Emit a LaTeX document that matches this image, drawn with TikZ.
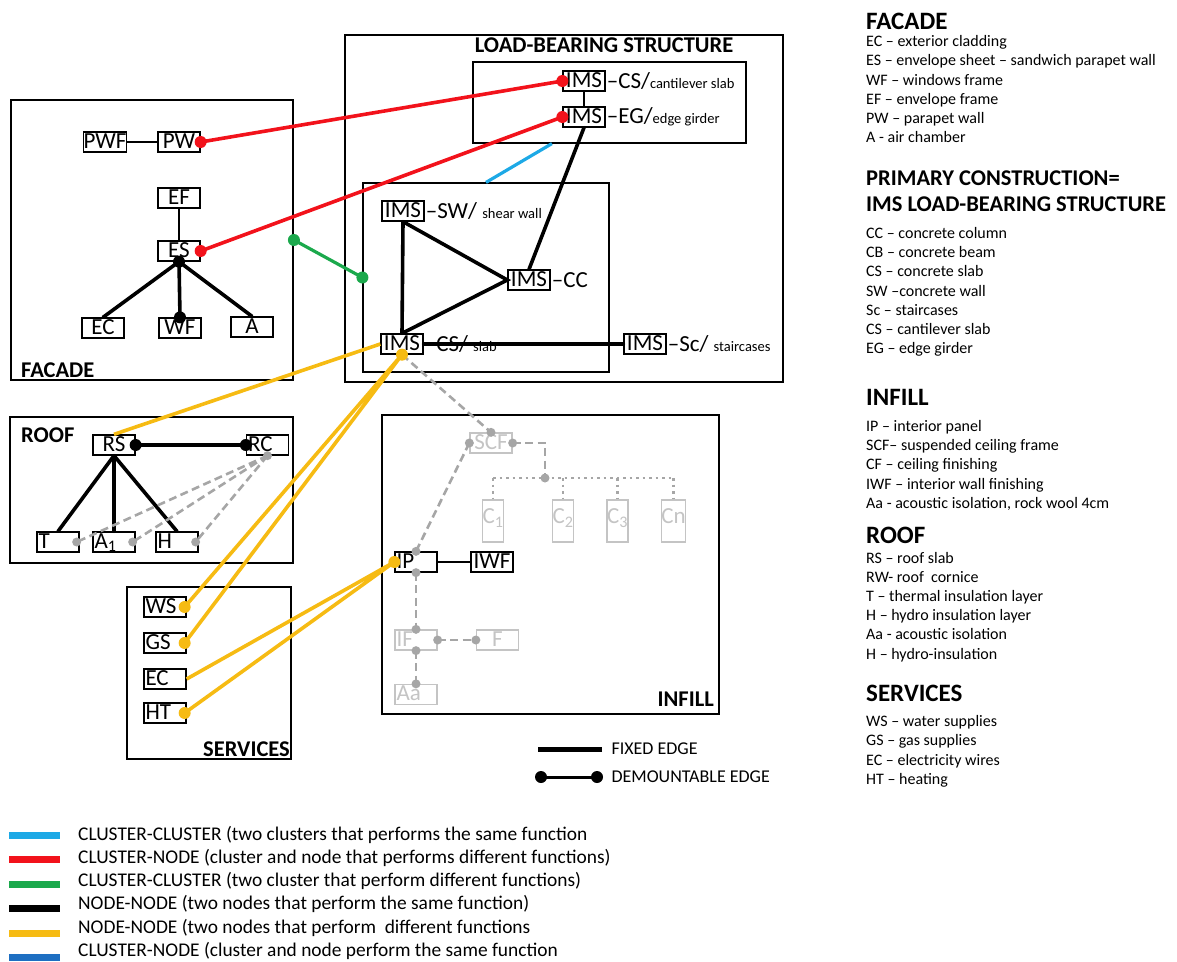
\documentclass[tikz,border=0pt]{standalone}
\usepackage{fontspec}
\setmainfont{Carlito}
\usetikzlibrary{calc}
\definecolor{EdgeCyan}{HTML}{1DA9E6}
\definecolor{EdgeRed}{HTML}{F2121B}
\definecolor{EdgeGreen}{HTML}{1BA94C}
\definecolor{EdgeGold}{HTML}{F6BB13}
\definecolor{EdgeBlue}{HTML}{1E6FC2}
\definecolor{Ghost}{HTML}{A6A6A6}
\definecolor{GhostText}{HTML}{C4C4C4}
\begin{document}
\begin{tikzpicture}[x=1pt,y=-1pt,font=\fontsize{16}{19}\selectfont,cluster/.style={draw, line width=1.8pt, inner sep=0pt},subcluster/.style={draw, line width=1.2pt, inner sep=0pt},clustertitle/.style={inner sep=1pt, font=\fontsize{22.5}{22.5}\selectfont\bfseries},box/.style={draw, fill=white, line width=1.3pt, minimum width=42pt, minimum height=20pt, inner sep=0pt, font=\fontsize{23}{23}\selectfont, text height=15pt, text depth=3pt},lbox/.style={box, text width=39pt, align=left, inner xsep=1.5pt},ghost/.style={draw=GhostText, text=GhostText},tag/.style={anchor=west, inner sep=1pt, font=\fontsize{23}{23}\selectfont},small/.style={font=\fontsize{14.5}{14.5}\selectfont},fixededge/.style={line width=3.6pt, line cap=round},lightedge/.style={line width=1.5pt},ghostedge/.style={Ghost, line width=2.6pt, dash pattern=on 8pt off 4.5pt},ghostdots/.style={Ghost, line width=2.6pt, dash pattern=on 2.5pt off 4pt},coloredge/.style={line width=3.6pt},keytext/.style={anchor=west, inner sep=0pt, text height=11pt, text depth=4pt},keyhead/.style={anchor=west, inner sep=0pt, font=\fontsize{25}{26}\selectfont\bfseries}]
\useasboundingbox (0,0) rectangle (1177,961);
\node[cluster, minimum width=282pt, minimum height=280pt] (facade) at (152,240) {};
\node[cluster, minimum width=438pt, minimum height=347pt] (lbs) at (564,208.5) {};
\node[subcluster, minimum width=273pt, minimum height=81pt] (girders) at (609.5,102.5) {};
\node[subcluster, minimum width=246pt, minimum height=189pt] (slabs) at (486,277.5) {};
\node[cluster, minimum width=283pt, minimum height=146pt] (roof) at (151.5,490) {};
\node[cluster, minimum width=164pt, minimum height=172pt] (services) at (209,673) {};
\node[cluster, minimum width=337pt, minimum height=299pt] (infill) at (550.5,564.5) {};
\node[clustertitle, anchor=west] (facadetitle) at (20,370) {FACADE};
\node[clustertitle] (lbstitle) at (604,45) {LOAD-BEARING STRUCTURE};
\node[clustertitle, anchor=west] (rooftitle) at (20,435) {ROOF};
\node[clustertitle, anchor=east] (servicestitle) at (291,749) {SERVICES};
\node[clustertitle, anchor=east] (infilltitle) at (715,699) {INFILL};
\node[box] (pwf) at (105,142) {PWF};
\node[box] (pw) at (179,142) {PW};
\node[box] (ef) at (179,198) {EF};
\node[box] (es) at (179,251) {ES};
\node[box] (ec) at (103,328) {EC};
\node[box] (wf) at (180,328) {WF};
\node[box] (a) at (252,327) {A};
\node[box] (imscs) at (584,81) {IMS};
\node[box] (imseg) at (584,117) {IMS};
\node[box] (imssw) at (403,211) {IMS};
\node[box] (imscc) at (529,280) {IMS};
\node[box] (imsslab) at (402,344) {IMS};
\node[box] (imssc) at (645,344) {IMS};
\node[tag] (cstag) at (imscs.east) {--CS/{\fontsize{14.5}{14.5}\selectfont cantilever slab}};
\node[tag] (egtag) at (imseg.east) {--EG/{\fontsize{14.5}{14.5}\selectfont edge girder}};
\node[tag] (swtag) at (imssw.east) {--SW/ {\fontsize{14.5}{14.5}\selectfont shear wall}};
\node[tag] (cctag) at (imscc.east) {--CC};
\node[tag] (slabtag) at (imsslab.east) {--CS/ {\fontsize{14.5}{14.5}\selectfont slab}};
\node[tag] (sctag) at (imssc.east) {--Sc/ {\fontsize{14.5}{14.5}\selectfont staircases}};
\node[box] (rs) at (114,445) {RS};
\node[lbox] (rc) at (267.5,445) {RC};
\node[lbox] (t) at (58,542) {T};
\node[lbox] (aone) at (114,542) {A\textsubscript{1}};
\node[lbox] (h) at (177,542) {H};
\node[lbox] (ws) at (165,607) {WS};
\node[lbox] (gs) at (165,643) {GS};
\node[lbox] (ecs) at (165,679) {EC};
\node[lbox] (ht) at (165,713) {HT};
\node[box, ghost] (scf) at (491,443) {SCF};
\foreach \n/\x/\t in {c1/493/C\textsubscript{1},c2/563/C\textsubscript{2},c3/617.5/C\textsubscript{3},cn/673.5/Cn} {\node[box, ghost, minimum width=20pt, minimum height=42pt, text depth=10pt] (\n) at (\x,521) {\t};}
\node[lbox] (ip) at (416,562) {IP};
\node[box] (iwf) at (492,562) {IWF};
\node[lbox, ghost] (if) at (416,640) {IF};
\node[box, ghost] (f) at (497.5,640) {F};
\node[lbox, ghost] (aa) at (416,694.5) {Aa};
\coordinate (tdot) at ([xshift=-3pt]t.east);
\coordinate (aonedot) at ([xshift=-3pt]aone.east);
\coordinate (hdot) at ([xshift=-3pt]h.east);
\coordinate (wsdot) at ([xshift=-2pt]ws.east);
\coordinate (gsdot) at ([xshift=-2pt]gs.east);
\coordinate (htdot) at ([xshift=-2pt]ht.east);
\coordinate (cjoin) at (545,478);
\draw[lightedge] (pwf.east) -- (pw.west);
\draw[lightedge] (ef.south) -- (es.north);
\draw[lightedge] (imscs.south) -- (imseg.north);
\draw[line width=2.6pt] (ip.east) -- (iwf.west);
\draw[fixededge] (es.south) -- (ec.north) (es.south) -- (wf.north) (es.south) -- (a.north);
\draw[fixededge] (imssw.south) -- (imsslab.north) (imssw.south) -- (imscc.west) -- (imsslab.north) (imscc.north) -- (imseg.south);
\draw[fixededge] (imsslab.east) -- (imssc.west);
\draw[fixededge] (rs.south) -- (t.north) (rs.south) -- (aone.north) (rs.south) -- (h.north);
\draw[fixededge] (rs.east) -- (rc.west);
\foreach \p in {es.south, wf.north, rs.east, rc.west} {\fill (\p) circle (6pt);}
\draw[ghostedge] (rc.south) -- (tdot) (rc.south) -- (aonedot) (rc.south) -- (hdot);
\draw[ghostedge] (imsslab.south) -- (scf.north);
\draw[ghostedge] (scf.east) -| (cjoin);
\draw[ghostdots] (c1.north |- cjoin) -- (cn.north |- cjoin);
\foreach \n in {c1,c2,c3,cn} {\draw[ghostdots] (\n.north |- cjoin) -- (\n.north);}
\draw[ghostedge] (scf.west) -- (ip.north);
\draw[ghostedge] (ip.south) -- (if.north) (if.south) -- (aa.north);
\draw[ghostedge] (if.east) -- (f.west);
\foreach \p in {rc.south, tdot, aonedot, hdot, scf.north, scf.east, scf.west, cjoin, ip.north, ip.south, if.north, if.east, if.south, f.west, aa.north} {\fill[Ghost] (\p) circle (4.5pt);}
\draw[coloredge, EdgeRed] (pw.east) -- (imscs.west);
\draw[coloredge, EdgeRed] (es.east) -- (imseg.west);
\foreach \p in {pw.east, imscs.west, es.east, imseg.west} {\fill[EdgeRed] (\p) circle (6pt);}
\draw[coloredge, EdgeGreen, line width=3.2pt] (facade.east) -- (slabs.west);
\foreach \p in {facade.east, slabs.west} {\fill[EdgeGreen] (\p) circle (6pt);}
\draw[coloredge, EdgeCyan, line width=3.2pt] ($(girders.south west)!0.29!(girders.south east)$) -- (slabs.north);
\draw[coloredge, EdgeGold] (rs.north) -- (imsslab.west);
\draw[coloredge, EdgeGold] (wsdot) -- (imsslab.south) (gsdot) -- (imsslab.south);
\draw[coloredge, EdgeGold] (ecs.east) -- (ip.west) (htdot) -- (ip.west);
\foreach \p in {wsdot, gsdot, htdot, imsslab.south, ip.west} {\fill[EdgeGold] (\p) circle (6pt);}
\node[anchor=west, font=\fontsize{18}{18}\selectfont] (fixedkey) at (608,749) {FIXED EDGE};
\node[anchor=west, font=\fontsize{18}{18}\selectfont] (demountkey) at (608,777) {DEMOUNTABLE EDGE};
\draw[line width=5pt] ([xshift=-6pt]fixedkey.west) -- ++(-64,0);
\draw[line width=3pt] ([xshift=-11pt]demountkey.west) -- ++(-56,0);
\fill ([xshift=-11pt]demountkey.west) circle (6pt) ++(-56,0) circle (6pt);
\node[keyhead] (facadehead) at (866,21) {FACADE};
\foreach \t [count=\i from 0] in {EC -- exterior cladding, ES -- envelope sheet -- sandwich parapet wall, WF -- windows frame, EF -- envelope frame, PW -- parapet wall, A - air chamber} {\node[keytext] (facadeitem\i) at (866,{43+19.25*\i}) {\t};}
\node[keyhead, font=\fontsize{22.5}{24}\selectfont\bfseries] (primaryhead) at (866,178) {PRIMARY CONSTRUCTION=};
\node[keyhead, font=\fontsize{22.5}{24}\selectfont\bfseries] (imshead) at (866,204) {IMS LOAD-BEARING STRUCTURE};
\foreach \t [count=\i from 0] in {CC -- concrete column, CB -- concrete beam, CS -- concrete slab, SW --concrete wall, Sc -- staircases, CS -- cantilever slab, EG -- edge girder} {\node[keytext] (imsitem\i) at (866,{235+19.2*\i}) {\t};}
\node[keyhead] (infillhead) at (866,397) {INFILL};
\foreach \t [count=\i from 0] in {IP -- interior panel, SCF-- suspended ceiling frame, CF -- ceiling finishing, IWF -- interior wall finishing, {Aa - acoustic isolation, rock wool 4cm}} {\node[keytext] (infillitem\i) at (866,{428+19.2*\i}) {\t};}
\node[keyhead] (roofhead) at (866,535) {ROOF};
\foreach \t [count=\i from 0] in {RS -- roof slab, RW- roof\ \ cornice, T -- thermal insulation layer, H -- hydro insulation layer, Aa - acoustic isolation, H -- hydro-insulation} {\node[keytext] (roofitem\i) at (866,{560+19.1*\i}) {\t};}
\node[keyhead] (serviceshead) at (866,693) {SERVICES};
\foreach \t [count=\i from 0] in {WS -- water supplies, GS -- gas supplies, EC -- electricity wires, HT -- heating} {\node[keytext] (servicesitem\i) at (866,{723+19.3*\i}) {\t};}
\foreach \c/\t [count=\i from 0] in {EdgeCyan/{CLUSTER-CLUSTER (two clusters that performs the same function}, EdgeRed/{CLUSTER-NODE (cluster and node that performs different functions)}, EdgeGreen/{CLUSTER-CLUSTER (two cluster that perform different functions)}, black/{NODE-NODE (two nodes that perform the same function)}, EdgeGold/{NODE-NODE (two nodes that perform\ \ different functions}, EdgeBlue/{CLUSTER-NODE (cluster and node perform the same function}} {\fill[\c] (9,{831.5+24.5*\i}) rectangle (60,{838.5+24.5*\i}); \node[keytext, font=\fontsize{19.4}{19.4}\selectfont, text height=13pt, text depth=5pt] (edgekey\i) at (78,{836+23.3*\i}) {\t};}
\end{tikzpicture}
\end{document}
